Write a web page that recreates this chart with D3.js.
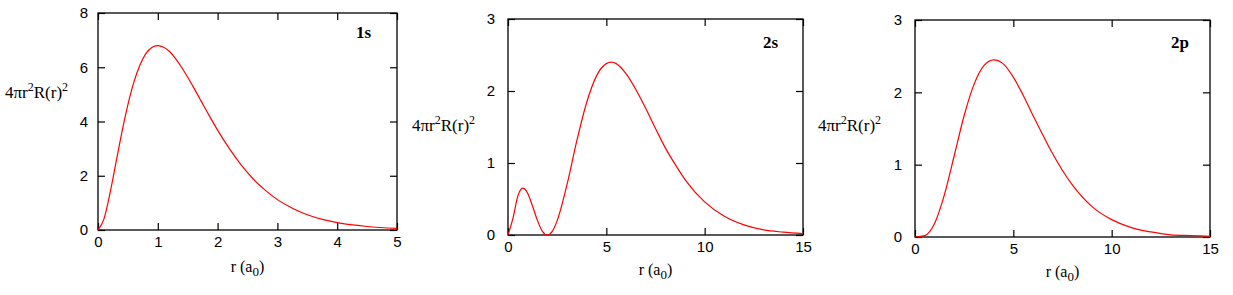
<!DOCTYPE html>
<html>
<head>
<meta charset="utf-8">
<script src="https://cdn.jsdelivr.net/npm/d3@7"></script>
<style>
  body { margin: 0; background: #fff; }
  svg { display: block; }
</style>
</head>
<body>
<svg id="chart" width="1233" height="295"></svg>
<script>
// radial distribution 4*pi*r^2*R(r)^2
const r1s = [0, 0.1, 0.2, 0.3, 0.4, 0.5, 0.6, 0.7, 0.8, 0.9, 1.0, 1.1, 1.2, 1.3, 1.4, 1.5, 1.6, 1.7, 1.8, 1.9, 2.0, 2.2, 2.4, 2.6, 2.8, 3.0, 3.25, 3.5, 3.75, 4.0, 4.5, 5.0];
const p1s = [0, 0.41, 1.35, 2.48, 3.61, 4.62, 5.45, 6.07, 6.50, 6.73, 6.80, 6.74, 6.57, 6.31, 5.99, 5.63, 5.25, 4.85, 4.45, 4.06, 3.68, 2.99, 2.38, 1.87, 1.46, 1.12, 0.80, 0.56, 0.39, 0.27, 0.13, 0.06];

const r2s = [0, 0.25, 0.5, 0.75, 1.0, 1.25, 1.5, 1.75, 2.0, 2.25, 2.5, 3.0, 3.5, 4.0, 4.5, 5.0, 5.25, 5.5, 6.0, 6.5, 7.0, 7.5, 8.0, 8.5, 9.0, 10, 11, 12, 13, 14, 15];
const p2s = [0, 0.23, 0.54, 0.65, 0.58, 0.40, 0.20, 0.05, 0, 0.05, 0.20, 0.70, 1.31, 1.84, 2.21, 2.38, 2.40, 2.38, 2.24, 2.02, 1.76, 1.48, 1.21, 0.98, 0.77, 0.46, 0.26, 0.14, 0.07, 0.04, 0.02];

const r2p = [0, 0.5, 1, 1.5, 2, 2.5, 3, 3.5, 4, 4.5, 5, 5.5, 6, 6.5, 7, 7.5, 8, 9, 10, 11, 12, 13, 14, 15];
const p2p = [0, 0.02, 0.19, 0.59, 1.13, 1.68, 2.11, 2.37, 2.45, 2.39, 2.21, 1.96, 1.68, 1.41, 1.15, 0.92, 0.72, 0.42, 0.24, 0.13, 0.07, 0.03, 0.02, 0.01];

const titles = ["1s", "2s", "2p"];
const xTicks1s = [0, 1, 2, 3, 4, 5];
const yTicks1s = [0, 2, 4, 6, 8];
const xTicks2 = [0, 5, 10, 15];
const yTicks2 = [0, 1, 2, 3];

const svg = d3.select("#chart");

const panels = [
  { r: r1s, p: p1s, title: titles[0], xDom: [0, 5], yDom: [0, 8], xt: xTicks1s, yt: yTicks1s,
    box: { l: 98, r: 397, t: 13, b: 230 }, pad: 10, ylab: [5, 98], xlabY: 272, titleXY: [356, 38] },
  { r: r2s, p: p2s, title: titles[1], xDom: [0, 15], yDom: [0, 3], xt: xTicks2, yt: yTicks2,
    box: { l: 508, r: 803, t: 19, b: 235 }, pad: 13, ylab: [412, 131], xlabY: 275, titleXY: [763, 48] },
  { r: r2p, p: p2p, title: titles[2], xDom: [0, 15], yDom: [0, 3], xt: xTicks2, yt: yTicks2,
    box: { l: 915, r: 1210, t: 20, b: 237 }, pad: 13, ylab: [818, 131], xlabY: 277, titleXY: [1171, 48] }
];

const sansFont = "'Liberation Sans', Arial, sans-serif";
const serifFont = "'Liberation Serif', 'Times New Roman', serif";
const fmt = d3.format("d");

panels.forEach(pn => {
  const b = pn.box;
  const x = d3.scaleLinear().domain(pn.xDom).range([b.l, b.r]);
  const y = d3.scaleLinear().domain(pn.yDom).range([b.b, b.t]);
  const g = svg.append("g");

  // bottom axis with labels, ticks pointing in
  const gx = g.append("g")
    .attr("transform", `translate(0,${b.b})`)
    .call(d3.axisBottom(x).tickValues(pn.xt).tickFormat(fmt).tickSizeInner(-7).tickSizeOuter(0).tickPadding(6));
  gx.select(".domain").remove();
  gx.selectAll("text").attr("font-family", sansFont).attr("font-size", 15).attr("fill", "#000");

  const gy = g.append("g")
    .attr("transform", `translate(${b.l},0)`)
    .call(d3.axisLeft(y).tickValues(pn.yt).tickFormat(fmt).tickSizeInner(-7).tickSizeOuter(0).tickPadding(pn.pad));
  gy.select(".domain").remove();
  gy.selectAll("text").attr("font-family", sansFont).attr("font-size", 15).attr("fill", "#000");

  // mirrored ticks on top and right
  const gt = g.append("g")
    .attr("transform", `translate(0,${b.t})`)
    .call(d3.axisTop(x).tickValues(pn.xt).tickSizeInner(-7).tickSizeOuter(0).tickFormat(""));
  gt.select(".domain").remove();
  const gr = g.append("g")
    .attr("transform", `translate(${b.r},0)`)
    .call(d3.axisRight(y).tickValues(pn.yt).tickSizeInner(-7).tickSizeOuter(0).tickFormat(""));
  gr.select(".domain").remove();

  g.selectAll(".tick line").attr("stroke", "#000").attr("stroke-width", 1.2);

  // frame
  g.append("rect")
    .attr("x", b.l).attr("y", b.t)
    .attr("width", b.r - b.l).attr("height", b.b - b.t)
    .attr("fill", "none").attr("stroke", "#000").attr("stroke-width", 1.3);

  // curve
  const pts = pn.r.map((rv, i) => ({ r: rv, v: pn.p[i] }));
  g.append("path")
    .datum(pts)
    .attr("fill", "none")
    .attr("stroke", "#ff0000")
    .attr("stroke-width", 1.2)
    .attr("d", d3.line().x(d => x(d.r)).y(d => y(d.v)).curve(d3.curveMonotoneX));

  // title
  g.append("text")
    .attr("x", pn.titleXY[0]).attr("y", pn.titleXY[1])
    .attr("font-family", serifFont).attr("font-weight", "bold").attr("font-size", 17)
    .text(pn.title);

  // y label 4πr²R(r)²
  const yl = g.append("text")
    .attr("x", pn.ylab[0]).attr("y", pn.ylab[1])
    .attr("font-family", serifFont).attr("font-size", 17);
  yl.append("tspan").text("4πr");
  yl.append("tspan").attr("dy", -7).attr("font-size", 12).text("2");
  yl.append("tspan").attr("dy", 7).text("R(r)");
  yl.append("tspan").attr("dy", -7).attr("font-size", 12).text("2");

  // x label r (a0)
  const xl = g.append("text")
    .attr("x", (b.l + b.r) / 2).attr("y", pn.xlabY)
    .attr("text-anchor", "middle")
    .attr("font-family", serifFont).attr("font-size", 16);
  xl.append("tspan").text("r (a");
  xl.append("tspan").attr("dy", 4).attr("font-size", 13).text("0");
  xl.append("tspan").attr("dy", -4).text(")");
});
</script>
</body>
</html>
